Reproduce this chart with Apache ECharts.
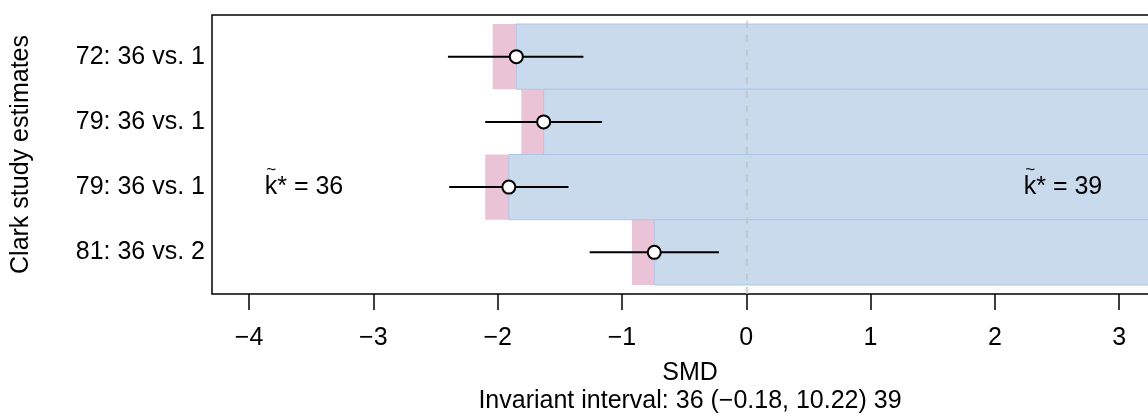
<!DOCTYPE html>
<html>
<head>
<meta charset="utf-8">
<script src="https://cdn.jsdelivr.net/npm/echarts@6/dist/echarts.min.js"></script>
<style>html,body{margin:0;padding:0;background:#fff;}#c{width:1148px;height:418px;}</style>
</head>
<body>
<div id="c"></div>
<script>
// ---- data ----
var categories = ['72: 36 vs. 1', '79: 36 vs. 1', '79: 36 vs. 1', '81: 36 vs. 2'];
var rowPos = [4, 3, 2, 1];
var estimates = [-1.85, -1.63, -1.91, -0.74];
var ciLower = [-2.40, -2.10, -2.39, -1.26];
var ciUpper = [-1.31, -1.16, -1.43, -0.22];
var pinkLeft = [-2.04, -1.81, -2.10, -0.92];
var blueRight = [10.22, 10.22, 10.22, 10.22];
var xTicks = [-4, -3, -2, -1, 0, 1, 2, 3];
var annX = [-3.874, 2.232];
var annY = [2, 2];
var annText = ['k* = 36', 'k* = 39'];
var xTitle = 'SMD';
var subTitle = 'Invariant interval: 36 (\u22120.18, 10.22) 39';
var yTitle = 'Clark study estimates';

var FONT = '"Liberation Sans", Arial, Helvetica, sans-serif';
var FS = 25;

var chart = echarts.init(document.getElementById('c'), null, { renderer: 'canvas' });

function rectItem(fill, stroke) {
  return function (params, api) {
    var y = api.value(0);
    var l = api.value(1), r = api.value(2);
    var p1 = api.coord([l, y + 0.5]);
    var p2 = api.coord([r, y - 0.5]);
    var cs = params.coordSys;
    var shape = echarts.graphic.clipRectByRect(
      { x: p1[0], y: p1[1], width: p2[0] - p1[0], height: p2[1] - p1[1] },
      { x: cs.x, y: cs.y, width: cs.width, height: cs.height });
    if (!shape) return;
    return {
      type: 'rect', shape: shape,
      style: { fill: fill, stroke: stroke || null, lineWidth: stroke ? 1 : 0 }
    };
  };
}

var pinkData = rowPos.map(function (y, i) { return [y, pinkLeft[i], estimates[i]]; });
var blueData = rowPos.map(function (y, i) { return [y, estimates[i], blueRight[i]]; });
var ciData = rowPos.map(function (y, i) { return [y, ciLower[i], ciUpper[i]]; });
var ptData = rowPos.map(function (y, i) { return [estimates[i], y]; });
var annData = annX.map(function (x, i) { return [x, annY[i]]; });

var option = {
  animation: false,
  backgroundColor: '#fff',
  textStyle: { fontFamily: FONT },
  grid: {
    left: 212, top: 15, bottom: 124, right: -5,
    outerBoundsMode: 'none', containLabel: false,
    show: true, borderColor: '#000', borderWidth: 1.5, backgroundColor: 'transparent'
  },
  xAxis: {
    type: 'value', min: -4.298, max: 3.272,
    splitLine: { show: false },
    axisLine: { show: false },
    axisTick: { show: true, length: 16, lineStyle: { color: '#000', width: 1.5 }, customValues: xTicks },
    axisLabel: {
      customValues: xTicks, margin: 32, color: '#000', fontSize: FS, fontFamily: FONT,
      formatter: function (v) { return v < 0 ? '\u2212' + Math.abs(v) : String(v); }
    }
  },
  yAxis: {
    type: 'value', min: 0.362, max: 4.638,
    splitLine: { show: false },
    axisLine: { show: false },
    axisTick: { show: false },
    axisLabel: {
      customValues: rowPos, margin: 7, color: '#000', fontSize: FS, fontFamily: FONT,
      formatter: function (v) { var k = rowPos.indexOf(Math.round(v)); return k >= 0 ? categories[k] : ''; }
    },
    name: yTitle, nameLocation: 'middle', nameRotate: 90, nameGap: 178,
    nameTextStyle: { color: '#000', fontSize: FS, fontFamily: FONT }
  },
  series: [
    {
      type: 'custom', name: 'pink', z: 1,
      renderItem: rectItem('#ebc3d7', null),
      encode: { x: [1, 2], y: 0 },
      data: pinkData
    },
    {
      type: 'custom', name: 'blue', z: 1,
      renderItem: rectItem('#c9daed', '#aec5e6'),
      encode: { x: [1, 2], y: 0 },
      data: blueData,
      markLine: {
        silent: true, symbol: ['none', 'none'], label: { show: false },
        lineStyle: { color: '#c4c4c4', type: [7, 7], width: 1.5 },
        data: [{ xAxis: 0 }]
      }
    },
    {
      type: 'custom', name: 'ci', z: 3,
      renderItem: function (params, api) {
        var y = api.value(0);
        var a = api.coord([api.value(1), y]);
        var b = api.coord([api.value(2), y]);
        return { type: 'line', shape: { x1: a[0], y1: a[1], x2: b[0], y2: b[1] },
          style: { stroke: '#000', lineWidth: 2 } };
      },
      encode: { x: [1, 2], y: 0 },
      data: ciData
    },
    {
      type: 'scatter', name: 'est', z: 4,
      symbol: 'circle', symbolSize: 13,
      itemStyle: { color: '#fff', borderColor: '#000', borderWidth: 2, opacity: 1 },
      data: ptData
    },
    {
      type: 'custom', name: 'ann', z: 5, silent: true,
      renderItem: function (params, api) {
        var p = api.coord([api.value(0), api.value(1)]);
        var txt = annText[params.dataIndex];
        return {
          type: 'group',
          children: [
            { type: 'text', x: p[0], y: p[1], style: { text: txt, fill: '#000', font: FS + 'px ' + FONT, align: 'left', verticalAlign: 'middle' } },
            { type: 'text', x: p[0] + 6.5, y: p[1] - 17, style: { text: '~', fill: '#000', font: '17px ' + FONT, align: 'center', verticalAlign: 'middle' } }
          ]
        };
      },
      encode: { x: 0, y: 1 },
      data: annData
    }
  ],
  graphic: [
    { type: 'text', x: 690, y: 373, style: { text: xTitle, fill: '#000', font: FS + 'px ' + FONT, align: 'center', verticalAlign: 'middle' } },
    { type: 'text', x: 690, y: 401, style: { text: subTitle, fill: '#000', font: FS + 'px ' + FONT, align: 'center', verticalAlign: 'middle' } }
  ]
};
chart.setOption(option);
</script>
</body>
</html>
